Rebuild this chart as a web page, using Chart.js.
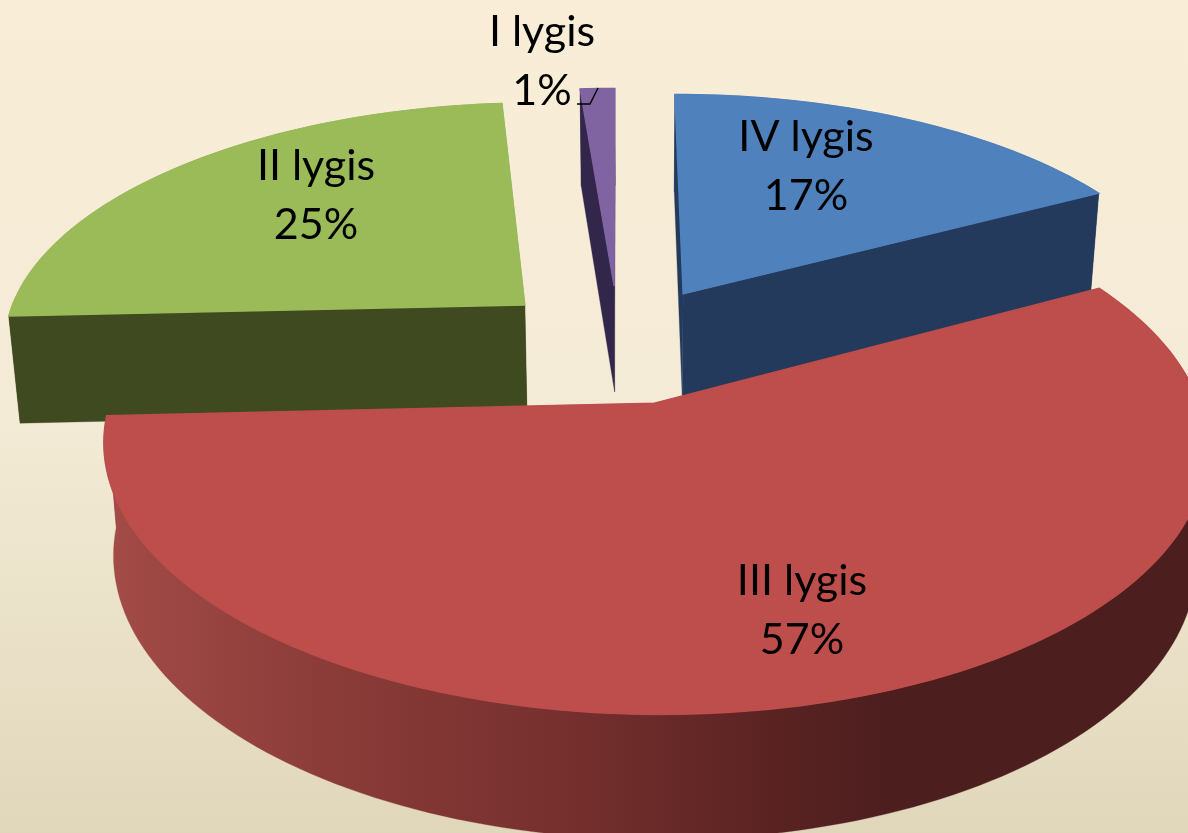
<!DOCTYPE html>
<html>
<head>
<meta charset="utf-8">
<title>Lygis</title>
<script src="https://cdn.jsdelivr.net/npm/chart.js@4"></script>
<style>
  html, body { margin: 0; padding: 0; }
  body {
    width: 1188px; height: 833px; overflow: hidden;
    background: linear-gradient(#f9edd7 0%, #f4ebd6 50%, #e0d7bb 100%);
  }
  #wrap { position: relative; width: 1188px; height: 833px; }
</style>
</head>
<body>
<div id="wrap"><canvas id="pie"></canvas></div>
<script>
// drawn clockwise from the top, same as the picture
const categories = ["I lygis", "IV lygis", "III lygis", "II lygis"];
const shares = [1.25, 17.2, 57.05, 24.5]; // estimated from the slice edges
const percentLabels = ["1%", "17%", "57%", "25%"];

const faceColors = ["#8064a2", "#4f81bd", "#bd4e4b", "#9bbb59"];
const wallColors = ["#32274a", "#233a5c", "#4d1e1e", "#3f4a20"];
const labelSpots = [[542, 32], [806, 137], [802, 581], [316, 166]];
const paintOrder = [3, 1, 0, 2]; // back slices first, III sits in front

// camera settings for the tilted pie, worked out from the slice corners
const cam = { cx: 619, cy: 343.5, a: 525, b: 243.7, k: 0.152, explode: 0.245 };

function project(X, Y) {
  const w = 1 + cam.k * Y;
  return [cam.cx + cam.a * X / w, cam.cy - cam.b * Y / w];
}

// where a top corner ends up on the bottom side of the slab
function dropDown(p) {
  return [640 + (p[0] - 640) * 0.982, p[1] + 93 + 0.045 * p[1]];
}

function sliceOutline(arc) {
  const { startAngle, endAngle } = arc;
  const mid = (startAngle + endAngle) / 2;
  const ox = Math.cos(mid) * cam.explode;
  const oy = -Math.sin(mid) * cam.explode;
  const rim = [];
  const steps = Math.max(4, Math.ceil((endAngle - startAngle) * 40));
  for (let i = 0; i <= steps; i++) {
    const t = startAngle + (endAngle - startAngle) * i / steps;
    rim.push(project(ox + Math.cos(t), oy - Math.sin(t)));
  }
  return { apex: project(ox, oy), rim };
}

function fillPoly(ctx, pts, fill, edge) {
  ctx.beginPath();
  pts.forEach((p, i) => (i ? ctx.lineTo(p[0], p[1]) : ctx.moveTo(p[0], p[1])));
  ctx.closePath();
  ctx.fillStyle = fill;
  ctx.fill();
  ctx.strokeStyle = fill;
  ctx.lineWidth = edge;
  ctx.stroke();
}

function wallFill(ctx, i) {
  if (i !== 2) return wallColors[i];
  // III has the shaded outer wall
  const g = ctx.createLinearGradient(107, 0, 1188, 0);
  g.addColorStop(0, "#a34b47");
  g.addColorStop(0.2, "#8b3c39");
  g.addColorStop(0.42, "#76302e");
  g.addColorStop(0.6, "#5c2423");
  g.addColorStop(0.72, "#4d1e1e");
  g.addColorStop(1, "#4d1e1e");
  return g;
}

const slab3d = {
  id: "slab3d",
  beforeDatasetsDraw(chart) {
    const ctx = chart.ctx;
    const arcs = chart.getDatasetMeta(0).data;
    paintOrder.forEach((i) => {
      const { apex, rim } = sliceOutline(arcs[i]);
      const fill = wallFill(ctx, i);
      const last = rim[rim.length - 1];
      fillPoly(ctx, [apex, rim[0], dropDown(rim[0]), dropDown(apex)], fill, 0.3);
      fillPoly(ctx, [apex, last, dropDown(last), dropDown(apex)], fill, 0.3);
      fillPoly(ctx, rim.concat(rim.map(dropDown).reverse()), fill, 0.3);
      fillPoly(ctx, [apex].concat(rim), faceColors[i], 1.4);
    });
    return false;
  },
  afterDraw(chart) {
    const ctx = chart.ctx;
    ctx.save();
    ctx.fillStyle = "#000";
    ctx.font = "43px Lato";
    ctx.textAlign = "center";
    ctx.textBaseline = "middle";
    categories.forEach((name, i) => {
      const [x, y] = labelSpots[i];
      ctx.fillText(name, x, y);
      ctx.fillText(percentLabels[i], x, y + 59);
    });
    // little leader line next to 1%
    ctx.strokeStyle = "#000";
    ctx.lineWidth = 1.4;
    ctx.beginPath();
    ctx.moveTo(598, 88);
    ctx.lineTo(590, 104);
    ctx.lineTo(577, 104);
    ctx.stroke();
    ctx.restore();
  },
};

new Chart(document.getElementById("pie"), {
  type: "pie",
  data: {
    labels: categories,
    datasets: [{ data: shares, backgroundColor: faceColors, borderWidth: 0 }],
  },
  options: {
    responsive: true,
    maintainAspectRatio: false,
    animation: false,
    rotation: -4.5,
    plugins: { legend: { display: false }, tooltip: { enabled: false } },
  },
  plugins: [slab3d],
});
</script>
</body>
</html>
